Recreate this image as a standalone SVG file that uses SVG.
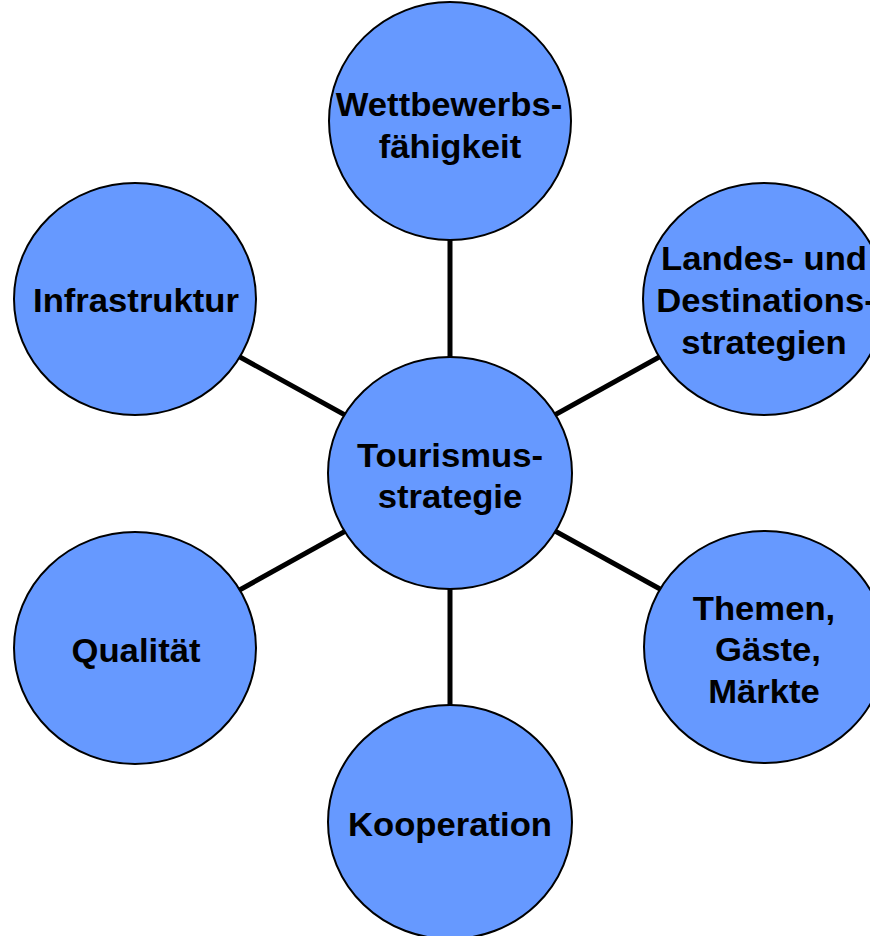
<svg xmlns="http://www.w3.org/2000/svg" width="870" height="936" viewBox="0 0 870 936">
<style>
.n ellipse{fill:#6699FF;stroke:#000;stroke-width:2}
.n text{font-family:"Liberation Sans",Arial,sans-serif;font-weight:bold;font-size:33px;fill:#000;text-anchor:middle}
.c line{stroke:#000;stroke-width:5}
</style>
<rect width="870" height="936" fill="#fff"/>
<g id="connectors" class="c">
<line x1="450" y1="473" x2="450" y2="121"/>
<line x1="450" y1="473" x2="764" y2="299"/>
<line x1="450" y1="473" x2="765" y2="647"/>
<line x1="450" y1="473" x2="450" y2="822"/>
<line x1="450" y1="473" x2="135" y2="648"/>
<line x1="450" y1="473" x2="135" y2="299"/>
</g>
<g id="wettbewerb" class="n">
<ellipse cx="450" cy="121" rx="121" ry="119"/>
<text transform="translate(449,116) scale(1.05,1)">Wettbewerbs-</text>
<text transform="translate(450,158) scale(1.05,1)">fähigkeit</text>
</g>
<g id="landes" class="n">
<ellipse cx="764" cy="299" rx="121" ry="116"/>
<text transform="translate(764,270) scale(1.05,1)">Landes- und</text>
<text transform="translate(766,312) scale(1.05,1)">Destinations-</text>
<text transform="translate(764,354) scale(1.05,1)">strategien</text>
</g>
<g id="themen" class="n">
<ellipse cx="765" cy="647" rx="121" ry="116"/>
<text transform="translate(764,620) scale(1.05,1)">Themen,</text>
<text transform="translate(768,661) scale(1.05,1)">Gäste,</text>
<text transform="translate(764,703) scale(1.05,1)">Märkte</text>
</g>
<g id="kooperation" class="n">
<ellipse cx="450" cy="822" rx="122" ry="117"/>
<text transform="translate(450,836) scale(1.05,1)">Kooperation</text>
</g>
<g id="qualitaet" class="n">
<ellipse cx="135" cy="648" rx="121" ry="116"/>
<text transform="translate(136,662) scale(1.05,1)">Qualität</text>
</g>
<g id="infrastruktur" class="n">
<ellipse cx="135" cy="299" rx="121" ry="116"/>
<text transform="translate(136,312) scale(1.05,1)">Infrastruktur</text>
</g>
<g id="tourismus" class="n">
<ellipse cx="450" cy="473" rx="122" ry="116"/>
<text transform="translate(450,467) scale(1.05,1)">Tourismus-</text>
<text transform="translate(450,508) scale(1.05,1)">strategie</text>
</g>
</svg>
